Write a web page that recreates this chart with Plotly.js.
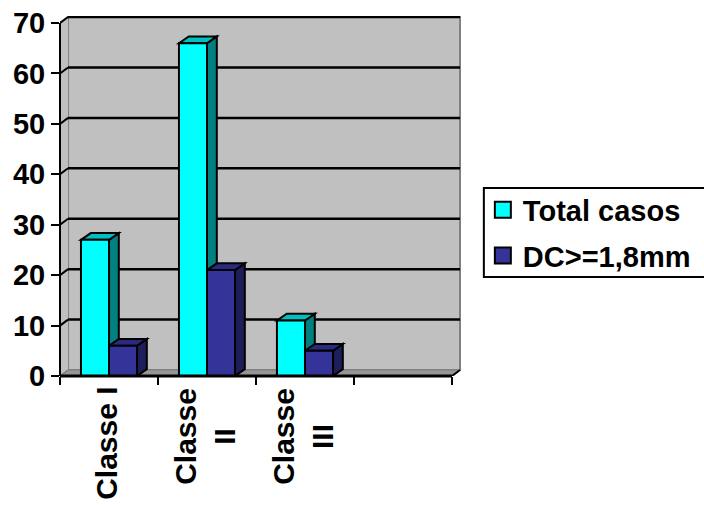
<!DOCTYPE html>
<html>
<head>
<meta charset="utf-8">
<script src="https://cdn.plot.ly/plotly-3.0.1.min.js"></script>
<style>
  html, body { margin: 0; padding: 0; background: #ffffff; }
  #chart { width: 704px; height: 505px; }
</style>
</head>
<body>
<div id="chart"></div>
<script>
// Categories, series and axis ticks
const categories = ['Classe I', 'Classe<br>II', 'Classe<br>III'];
const seriesNames = ['Total casos', 'DC>=1,8mm'];
const totalCasos = [27, 66, 11];
const dcCasos = [6, 21, 5];
const yTicks = [0, 10, 20, 30, 40, 50, 60, 70];

// Styling for the pseudo-3D column look
const faceColors = [
  { front: '#00FFFF', side: '#008080', top: '#00C0C0' },
  { front: '#333399', side: '#1E1E5A', top: '#2A2A80' }
];
const nSlots = 4;            // category slots on the floor (last one empty)
const barW = 0.286;          // width of one column in category units
const wallDx = 0.082, wallDy = 1.19;  // depth offset of the back wall
const barDx = 0.10, barDy = 1.35;     // depth offset of the columns
const yMax = yTicks[yTicks.length - 1];

const font = { family: 'Liberation Sans, Arial, sans-serif', color: '#000000', weight: 'bold' };
const centers = categories.map((_, i) => i + 0.5);
const series = [totalCasos, dcCasos];

function pathOf(pts) {
  return 'M' + pts.map(p => p[0] + ',' + p[1]).join('L') + 'Z';
}
function poly(pts, fill, lineColor, lineWidth) {
  return {
    type: 'path', xref: 'x', yref: 'y', layer: 'below',
    path: pathOf(pts), fillcolor: fill,
    line: { color: lineColor, width: lineWidth }
  };
}
function seg(x0, y0, x1, y1, color, width) {
  return {
    type: 'line', xref: 'x', yref: 'y', layer: 'below',
    x0: x0, y0: y0, x1: x1, y1: y1,
    line: { color: color, width: width }
  };
}

const shapes = [];
// back wall
shapes.push(poly([[wallDx, wallDy], [nSlots + wallDx, wallDy], [nSlots + wallDx, yMax + wallDy], [wallDx, yMax + wallDy]], '#C0C0C0', '#808080', 2));
// left side wall
shapes.push(poly([[0, 0], [0, yMax], [wallDx, yMax + wallDy], [wallDx, wallDy]], '#C0C0C0', 'rgba(0,0,0,0)', 0));
shapes.push(seg(0, yMax, wallDx, yMax + wallDy, '#808080', 2));
// floor
shapes.push(poly([[0, 0], [nSlots, 0], [nSlots + wallDx, wallDy], [wallDx, wallDy]], '#969696', '#808080', 1));
shapes.push(seg(nSlots, 0, nSlots + wallDx, wallDy, '#000000', 2));
// gridlines on the back wall, continued diagonally across the side wall
yTicks.filter(v => v > 0).forEach(v => {
  shapes.push(seg(0, v, wallDx, v + wallDy, '#000000', 2));
  shapes.push(seg(wallDx, v + wallDy, nSlots + wallDx, v + wallDy, '#000000', 2.5));
});
shapes.push(seg(0, 0, wallDx, wallDy, '#808080', 1.5));

// side and top faces of every column
centers.forEach((c, i) => {
  series.forEach((vals, s) => {
    const v = vals[i];
    const xl = c - barW + s * barW;
    const xr = xl + barW;
    shapes.push(poly([[xr, 0], [xr + barDx, barDy], [xr + barDx, v + barDy], [xr, v]], faceColors[s].side, '#000000', 2));
    shapes.push(poly([[xl, v], [xl + barDx, v + barDy], [xr + barDx, v + barDy], [xr, v]], faceColors[s].top, '#000000', 2));
  });
});

// front axis lines
shapes.push({ type: 'line', xref: 'paper', yref: 'y', layer: 'above', x0: 0, x1: 0, y0: 0, y1: yMax, line: { color: '#000000', width: 2 } });
shapes.push({ type: 'line', xref: 'x', yref: 'paper', layer: 'above', x0: 0, x1: nSlots, y0: 0, y1: 0, line: { color: '#000000', width: 3 } });

// frame around the legend
shapes.push({ type: 'rect', xref: 'paper', yref: 'paper', layer: 'above',
  x0: 1.057, x1: 1.615, y0: 0.275, y1: 0.522,
  fillcolor: 'rgba(0,0,0,0)', line: { color: '#000000', width: 2 } });

// front faces of the columns
const traces = series.map((vals, s) => ({
  type: 'bar',
  x: centers,
  y: vals,
  width: barW,
  offset: -barW + s * barW,
  marker: { color: faceColors[s].front, line: { color: '#000000', width: 2 } },
  showlegend: false,
  hoverinfo: 'skip'
}));

// legend entries
seriesNames.forEach((name, s) => {
  traces.push({
    type: 'scatter', mode: 'markers', name: name,
    x: [null], y: [null],
    legendgroup: 'g' + s,
    marker: { symbol: 'square', size: 16, color: faceColors[s].front, line: { color: '#000000', width: 2 } }
  });
});

// category labels under the floor
const annotations = categories.map((label, i) => ({
  x: centers[i], xref: 'x', y: -0.026, yref: 'paper',
  xanchor: 'center', yanchor: 'top', xshift: -2,
  text: label, textangle: -90, align: 'center',
  showarrow: false,
  font: Object.assign({}, font, { size: 30 })
}));

const layout = {
  width: 704, height: 505,
  margin: { l: 60, r: 243, t: 16, b: 129, pad: 0, autoexpand: false },
  paper_bgcolor: '#ffffff',
  plot_bgcolor: '#ffffff',
  barmode: 'overlay',
  showlegend: true,
  legend: {
    x: 1.0545, xanchor: 'left', y: 0.532, yanchor: 'top',
    borderwidth: 0, bgcolor: 'rgba(0,0,0,0)',
    font: Object.assign({}, font, { size: 29 }),
    traceorder: 'grouped', tracegroupgap: 5,
    itemwidth: 30
  },
  xaxis: {
    type: 'linear', range: [0, nSlots + 0.092],
    tickmode: 'array', tickvals: [0, 1, 2, 3, 4],
    showticklabels: false, ticks: 'outside', ticklen: 8, tickwidth: 2, tickcolor: '#000000',
    showgrid: false, zeroline: false, showline: false, fixedrange: true
  },
  yaxis: {
    range: [0, 71.4],
    tickmode: 'array', tickvals: yTicks,
    ticks: 'outside', ticklen: 8, tickwidth: 2, tickcolor: '#000000',
    tickfont: Object.assign({}, font, { size: 29 }),
    showgrid: false, zeroline: false, showline: false, fixedrange: true
  },
  shapes: shapes,
  annotations: annotations
};

Plotly.newPlot('chart', traces, layout, { displayModeBar: false, staticPlot: true });
</script>
</body>
</html>
